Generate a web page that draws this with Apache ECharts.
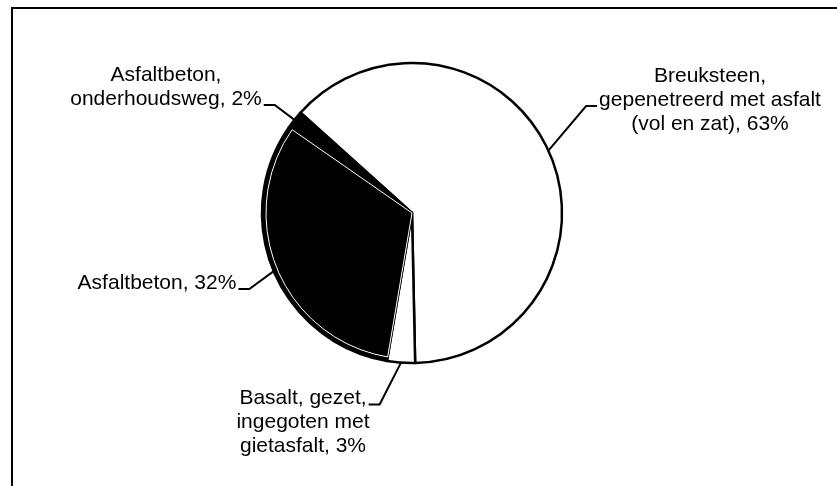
<!DOCTYPE html>
<html><head><meta charset="utf-8">
<script src="https://cdn.jsdelivr.net/npm/echarts@6/dist/echarts.min.js"></script>
<style>html,body{margin:0;padding:0;background:#fff}#c{width:837px;height:486px}</style>
</head><body><div id="c"></div>
<script>
// ---- data ----
const categories = [
  'Breuksteen,\ngepenetreerd met asfalt\n(vol en zat)',
  'Basalt, gezet,\ningegoten met\ngietasfalt',
  'Asfaltbeton',
  'Asfaltbeton,\nonderhoudsweg'
];
const values = [63, 3, 32, 2];
const sliceColors = ['#ffffff', '#ffffff', '#000000', '#000000'];

// ---- label placement (layout, not data) ----
const FONT = 21, LH = 24;
const FAMILY = '"Liberation Sans", Arial, sans-serif';
const labelPlace = [ // [centerX, firstLineCenterY, leaderSide, leaderLineIndex]
  [710, 76, 'left', 1],
  [303, 398.5, 'right', 0],
  [157, 283, 'right', 0],
  [166, 75, 'right', 1]
];
const labelText = categories.map((c, i) => c + ', ' + values[i] + '%');

const mctx = document.createElement('canvas').getContext('2d');
mctx.font = FONT + 'px ' + FAMILY;

const CX = 412, CY = 213, R = 150, START = 138;

function layoutLabel(p) {
  const i = p.dataIndex;
  const [cx, cy, side, li] = labelPlace[i];
  const line = labelText[i].split('\n')[li];
  const w = mctx.measureText(line).width;
  const ay = cy + li * LH + 6;
  const ax = side === 'left' ? cx - w / 2 - 2 : cx + w / 2 + 2;
  const ex = side === 'left' ? ax - 11 : ax + 11;
  const anchor = (p.labelLinePoints && p.labelLinePoints[0]) ? p.labelLinePoints[0] : [CX, CY];
  return {
    x: cx, y: cy - LH / 2, align: 'center', verticalAlign: 'top',
    labelLinePoints: [anchor, [ex, ay], [ax, ay]]
  };
}

const chart = echarts.init(document.getElementById('c'), null, {renderer: 'canvas'});
chart.setOption({
  animation: false,
  backgroundColor: '#ffffff',
  graphic: [{
    type: 'rect', z: 0, silent: true,
    shape: {x: 12, y: 8, width: 900, height: 600},
    style: {fill: 'none', stroke: '#000', lineWidth: 2}
  }],
  series: [{
    type: 'pie',
    center: [CX, CY],
    radius: [0, R],
    startAngle: START,
    clockwise: true,
    avoidLabelOverlap: false,
    data: categories.map((n, i) => ({
      name: n, value: values[i],
      itemStyle: {color: sliceColors[i]}
    })),
    itemStyle: {borderColor: '#000', borderWidth: 2.5},
    label: {
      show: true, position: 'outside',
      formatter: p => labelText[p.dataIndex],
      color: '#000', fontSize: FONT, fontFamily: FAMILY,
      lineHeight: LH, align: 'center'
    },
    labelLine: {show: true, length: 10, length2: 11, lineStyle: {color: '#000', width: 2}},
    labelLayout: layoutLabel,
    emphasis: {disabled: true}
  }, {
    type: 'pie',
    silent: true,
    center: [CX, CY],
    radius: [0, R - 4],
    startAngle: START,
    clockwise: true,
    label: {show: false}, labelLine: {show: false},
    data: categories.map((n, i) => ({
      name: n, value: values[i],
      itemStyle: i === 2
        ? {color: 'rgba(0,0,0,0)', borderColor: '#ffffff', borderWidth: 1}
        : {color: 'rgba(0,0,0,0)', borderWidth: 0}
    })),
    emphasis: {disabled: true}
  }]
});
</script></body></html>
